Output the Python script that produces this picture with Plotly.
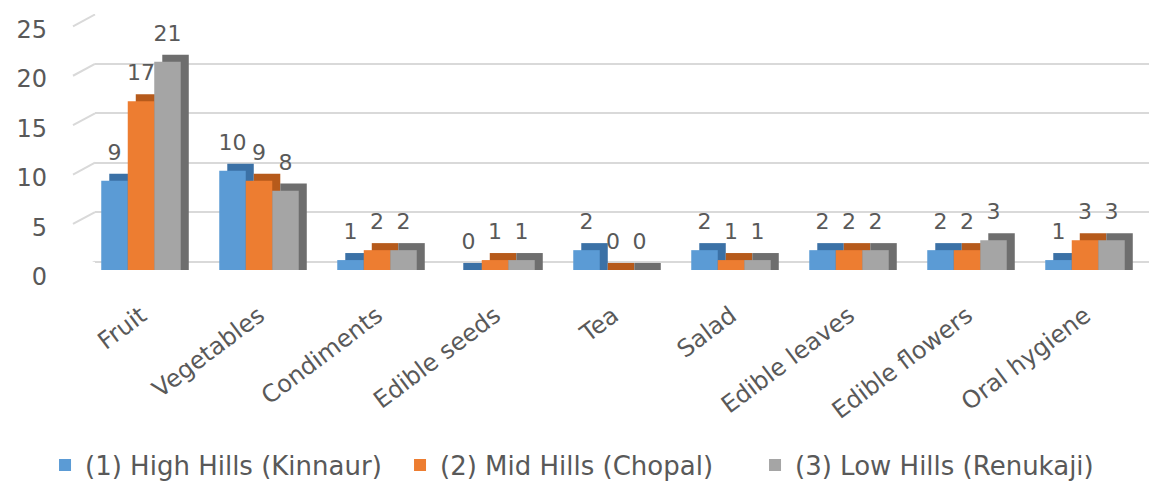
import plotly.graph_objects as go

categories = ["Fruit", "Vegetables", "Condiments", "Edible seeds", "Tea",
              "Salad", "Edible leaves", "Edible flowers", "Oral hygiene"]
series_names = ["(1) High Hills (Kinnaur)", "(2) Mid Hills (Chopal)", "(3) Low Hills (Renukaji)"]
high_hills = [9, 10, 1, 0, 2, 2, 2, 2, 1]
mid_hills = [17, 9, 2, 1, 0, 1, 2, 2, 3]
low_hills = [21, 8, 2, 1, 0, 1, 2, 3, 3]
y_ticks = [0, 5, 10, 15, 20, 25]

front_colors = ["#5B9BD5", "#ED7D31", "#A5A5A5"]
side_colors = ["#3B71A6", "#B65A1B", "#6E6E6E"]
text_color = "#595959"
grid_color = "#d9d9d9"
FONT = "DejaVu Sans"

W, H = 1149, 491
ML, MR, MT, MB = 73, 0, 14, 221
PW = W - ML - MR
PH = H - MT - MB

bar_w = 0.2246          # bar width in category units
depth_x = 0.068         # pseudo-3D depth (category units)
depth_y = 0.71          # pseudo-3D depth (value units)
label_pad = 1.55

xs = list(range(len(categories)))
fig = go.Figure()
all_series = [high_hills, mid_hills, low_hills]
for k, (name, vals) in enumerate(zip(series_names, all_series)):
    off = (k - 1.5) * bar_w
    # side/top face (depth)
    fig.add_trace(go.Bar(
        x=xs, y=[v + depth_y for v in vals], base=0,
        offset=off + depth_x, width=bar_w,
        marker=dict(color=side_colors[k], line=dict(width=0)),
        xaxis="x2", yaxis="y2", showlegend=False, hoverinfo="skip"))
    # front face
    fig.add_trace(go.Bar(
        x=xs, y=vals, name=name,
        offset=off, width=bar_w,
        marker=dict(color=front_colors[k], line=dict(width=0)),
        xaxis="x2", yaxis="y2"))
for k, vals in enumerate(all_series):
    off = (k - 1.5) * bar_w
    fig.add_trace(go.Scatter(
        x=[i + off + bar_w / 2 for i in xs], y=[v + label_pad for v in vals],
        mode="text", text=[str(v) for v in vals], textposition="top center",
        textfont=dict(family=FONT, size=22, color=text_color),
        xaxis="x2", yaxis="y2", showlegend=False, hoverinfo="skip",
        cliponaxis=False))

back_x0 = 22 / PW
shapes = []
for v in y_ticks:
    shapes.append(dict(type="line", xref="paper", yref="y",
                       x0=0, y0=v - 1.2, x1=back_x0, y1=v,
                       line=dict(color=grid_color, width=2), layer="below"))

fig.update_layout(
    width=W, height=H, autosize=False,
    margin=dict(l=ML, r=MR, t=MT, b=MB),
    paper_bgcolor="white", plot_bgcolor="rgba(0,0,0,0)",
    barmode="overlay",
    font=dict(family=FONT, color=text_color),
    shapes=shapes,
    xaxis=dict(domain=[back_x0, 1], range=[0, 1], showgrid=False, zeroline=False,
               showticklabels=False, showline=False, anchor="y", fixedrange=True),
    yaxis=dict(domain=[8 / PH, 1], range=[-0.05, 25.05], tickvals=y_ticks,
               showgrid=True, gridcolor=grid_color, gridwidth=2,
               zeroline=True, zerolinecolor=grid_color, zerolinewidth=2,
               showline=False, anchor="x",
               tickfont=dict(family=FONT, size=24, color=text_color),
               ticklabelshift=15, ticklabelstandoff=47),
    xaxis2=dict(domain=[9 / PW, 1071 / PW], range=[-0.5, len(categories) - 0.5],
                tickvals=xs, ticktext=categories, tickangle=-37,
                tickfont=dict(family=FONT, size=24, color=text_color),
                showgrid=False, zeroline=False, showline=False, anchor="y2",
                ticklabelstandoff=26),
    yaxis2=dict(domain=[0, 248 / PH], range=[0, 25], visible=False, anchor="x2"),
    legend=dict(orientation="h", x=-0.026, xanchor="left", y=-0.762, yanchor="middle",
                font=dict(family=FONT, size=26, color=text_color),
                entrywidth=310, traceorder="normal", bgcolor="rgba(0,0,0,0)"),
    showlegend=True,
)

fig.write_html("out.html")
